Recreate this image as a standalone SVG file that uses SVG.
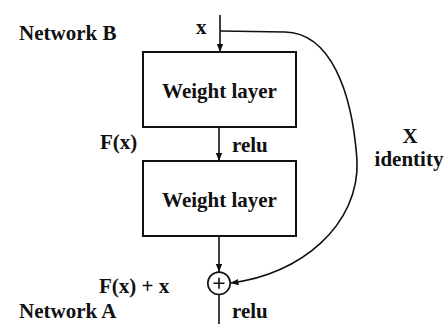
<svg xmlns="http://www.w3.org/2000/svg" width="444" height="324" viewBox="0 0 444 324">
<style>
.box{fill:#fff;stroke:#111;stroke-width:2}
.ln{fill:none;stroke:#111;stroke-width:1.6}
text{font-family:'Liberation Serif','Times New Roman',serif;font-weight:700;font-size:21px;fill:#111}
</style>
<defs>
<marker id="ah" viewBox="0 0 10 8" refX="10" refY="4" markerWidth="8" markerHeight="6.4" markerUnits="userSpaceOnUse" orient="auto">
<path d="M0,0 L10,4 L0,8 Z" fill="#111"/>
</marker>
</defs>
<rect width="444" height="324" fill="#fff"/>
<g id="labels">
<text x="19" y="40">Network B</text>
<text x="196" y="34">x</text>
<text x="100" y="149">F(x)</text>
<text x="232" y="152">relu</text>
<text x="410" y="143" text-anchor="middle">X</text>
<text x="409" y="166" text-anchor="middle">identity</text>
<text x="99" y="293">F(x) + x</text>
<text x="19" y="318">Network A</text>
<text x="232" y="318">relu</text>
</g>
<g id="connectors">
<line class="ln" x1="220" y1="15" x2="220" y2="52" marker-end="url(#ah)"/>
<line class="ln" x1="219" y1="127" x2="219" y2="161" marker-end="url(#ah)"/>
<line class="ln" x1="219" y1="236" x2="219" y2="272" marker-end="url(#ah)"/>
<line class="ln" x1="219" y1="294.5" x2="219" y2="332" marker-end="url(#ah)"/>
<path class="ln" d="M220,31 L285,32 C330,33 352,90 357,160 C360,225 300,275 230.5,283" marker-end="url(#ah)"/>
</g>
<g id="weight1">
<rect class="box" x="143" y="52" width="153" height="75"/>
<text x="219.5" y="98" text-anchor="middle">Weight layer</text>
</g>
<g id="weight2">
<rect class="box" x="143" y="161" width="153" height="75"/>
<text x="219.5" y="207" text-anchor="middle">Weight layer</text>
</g>
<g id="sum">
<circle cx="219" cy="283.3" r="11.2" fill="#fff" stroke="#111" stroke-width="1.6"/>
<path class="ln" d="M213.5,283.3 H224.5 M219,277.8 V288.8"/>
</g>
</svg>
